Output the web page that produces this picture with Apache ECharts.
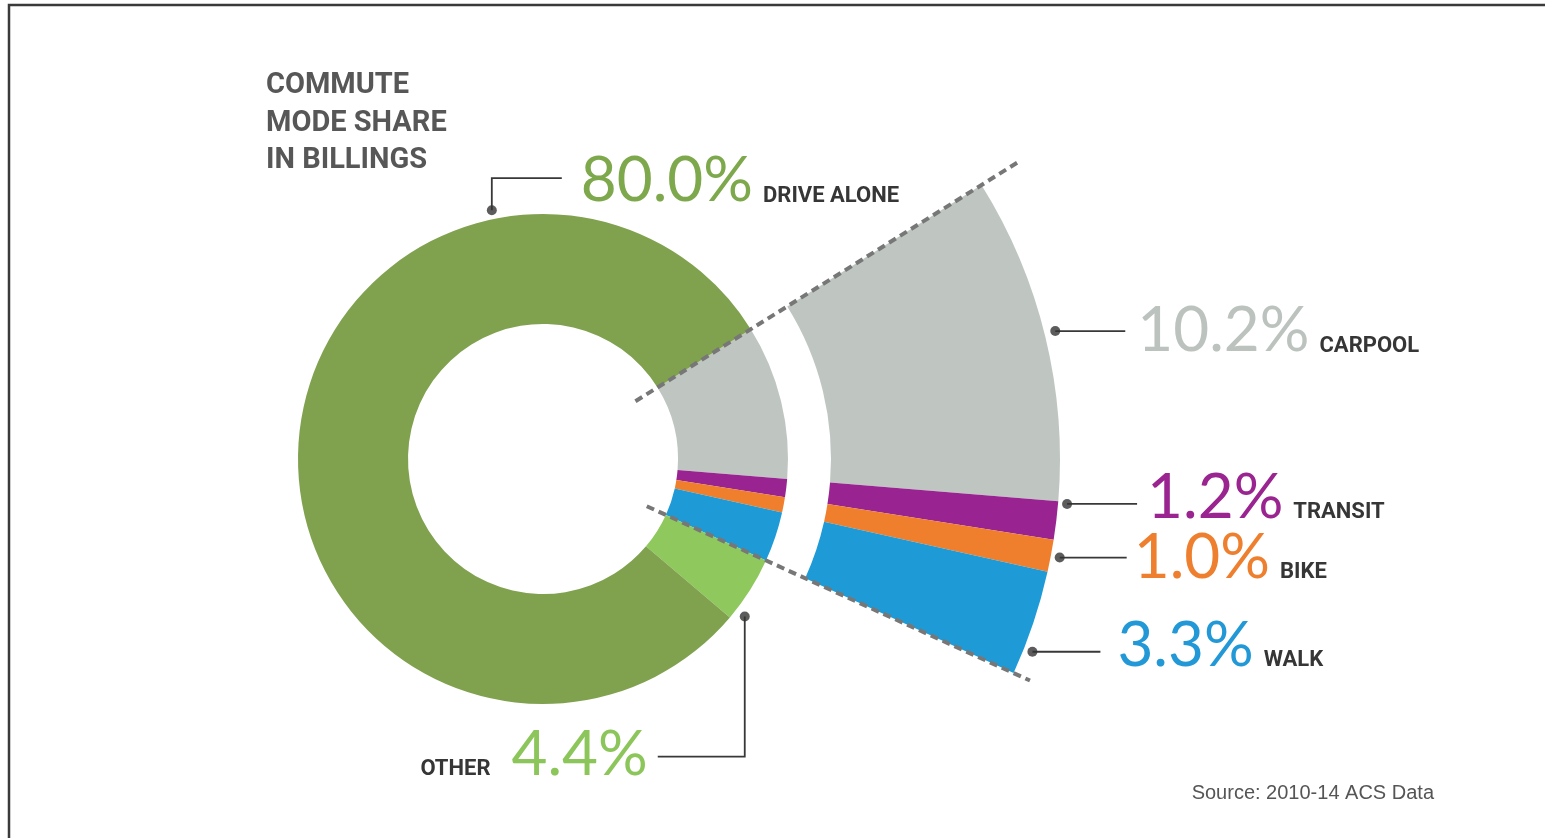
<!DOCTYPE html>
<html>
<head>
<meta charset="utf-8">
<script src="https://cdn.jsdelivr.net/npm/echarts@6/dist/echarts.min.js"></script>
<style>
html,body{margin:0;padding:0;background:#fff;}
#c{width:1545px;height:838px;}
</style>
</head>
<body>
<div id="c"></div>
<script>
// ---------- DATA ----------
const categories = ['Carpool', 'Transit', 'Bike', 'Walk', 'Other', 'Drive Alone'];
const labelNames = ['CARPOOL', 'TRANSIT', 'BIKE', 'WALK', 'OTHER', 'DRIVE ALONE'];
const shareValues = [10.2, 1.2, 1.0, 3.3, 4.4, 80.0];
const shareLabels = ['10.2%', '1.2%', '1.0%', '3.3%', '4.4%', '80.0%'];
const fanCategories = ['Carpool', 'Transit', 'Bike', 'Walk'];
const titleLines = ['COMMUTE', 'MODE SHARE', 'IN BILLINGS'];
const sourceText = 'Source: 2010-14 ACS Data';

// ---------- STYLE / LAYOUT ----------
const sliceColors = ['#bfc6c1', '#9a2392', '#ef7f2d', '#1e9bd7', '#8fc85c', '#80a24f'];
const textColors  = ['#bcc3be', '#9a2590', '#ee7f2e', '#2299d6', '#8cc65a', '#7ea84c'];
const CX = 543, CY = 459, START_ANGLE = 32;
const DONUT_R = [135, 245];
const FAN_R = [288, 517];
const NAME_FONT = 'Roboto';

// anchor (dot) placement: radius + fraction along the slice; leader offsets relative to the dot
const anchorLayout = {
  'Carpool':     { r: 528, frac: 0.49,  leader: [[35, 0], [70, 0]],   gap: 12, dy: 0,  align: 'left' },
  'Transit':     { r: 526, frac: 0.05,  leader: [[35, 0], [70, 0]],   gap: 10, dy: -6, align: 'left' },
  'Bike':        { r: 526, frac: 0.5,   leader: [[34, 0], [67, 0]],   gap: 7,  dy: 0,  align: 'left' },
  'Walk':        { r: 526, frac: 0.75,  leader: [[34, 0], [68, 0]],   gap: 17, dy: -6, align: 'left' },
  'Other':       { r: 256, frac: 0.855, leader: [[0, 140], [-87, 140]], gap: 10, dy: -2, align: 'right' },
  'Drive Alone': { r: 254, frac: 0.758, leader: [[0, -32], [70, -32]],  gap: 19, dy: 3,  align: 'left' }
};
const dashedBoundaries = [ { r: [109, 559] }, { r: [114, 535] } ];

// ---------- GEOMETRY HELPERS ----------
const total = shareValues.reduce((a, b) => a + b, 0);
function sliceSpan(name) {
  const idx = categories.indexOf(name);
  let before = 0;
  for (let i = 0; i < idx; i++) before += shareValues[i];
  const a0 = START_ANGLE - 360 * before / total;
  const a1 = a0 - 360 * shareValues[idx] / total;
  return [a0, a1];
}
function norm(a) { return ((a % 360) + 360) % 360; }
function anchorAngle(name) {
  const s = sliceSpan(name);
  return s[0] + (s[1] - s[0]) * anchorLayout[name].frac;
}
function toPixel(r, aDeg) {
  const a = aDeg * Math.PI / 180;
  return [CX + r * Math.cos(a), CY - r * Math.sin(a)];
}
const fanEndAngle = sliceSpan(fanCategories[fanCategories.length - 1])[1];

// ---------- SERIES DATA ----------
const rich = {};
categories.forEach((c, i) => {
  rich['p' + i] = { fontFamily: 'Lato', fontSize: 62, fontWeight: 400, color: textColors[i], lineHeight: 62 };
});
rich.n = { fontFamily: NAME_FONT, fontWeight: 'bold', fontSize: 22, color: '#363636', lineHeight: 22, padding: [30, 0, 0, 10] };
rich.nl = { fontFamily: NAME_FONT, fontWeight: 'bold', fontSize: 22, color: '#363636', lineHeight: 22, padding: [30, 21, 0, 0] };

function labelText(i) {
  if (categories[i] === 'Other') return '{nl|' + labelNames[i] + '}{p' + i + '|' + shareLabels[i] + '}';
  return '{p' + i + '|' + shareLabels[i] + '}{n|' + labelNames[i] + '}';
}

const donutData = categories.map((c, i) => {
  const labelled = (c === 'Other' || c === 'Drive Alone');
  return {
    name: c, value: shareValues[i],
    itemStyle: { color: sliceColors[i] },
    label: { show: labelled, formatter: labelText(i) },
    labelLine: { show: labelled }
  };
});

const fanData = fanCategories.map(c => {
  const i = categories.indexOf(c);
  return {
    name: c, value: shareValues[i],
    itemStyle: { color: sliceColors[i] },
    label: { show: true, formatter: labelText(i) },
    labelLine: { show: true }
  };
});
const restValue = categories.filter(c => fanCategories.indexOf(c) < 0)
  .reduce((s, c) => s + shareValues[categories.indexOf(c)], 0);
fanData.push({
  name: 'rest', value: restValue,
  itemStyle: { color: 'rgba(0,0,0,0)' },
  label: { show: false }, labelLine: { show: false }
});

const seriesData = [donutData, fanData];

function layoutLabel(params) {
  const item = seriesData[params.seriesIndex] && seriesData[params.seriesIndex][params.dataIndex];
  if (!item || !anchorLayout[item.name]) return {};
  const cfg = anchorLayout[item.name];
  const p0 = toPixel(cfg.r, anchorAngle(item.name));
  const p1 = [p0[0] + cfg.leader[0][0], p0[1] + cfg.leader[0][1]];
  const p2 = [p0[0] + cfg.leader[1][0], p0[1] + cfg.leader[1][1]];
  const x = cfg.align === 'left' ? p2[0] + cfg.gap : p2[0] - cfg.gap;
  return {
    x: x, y: p2[1] + cfg.dy,
    align: cfg.align, verticalAlign: 'middle',
    labelLinePoints: [p0, p1, p2]
  };
}

const dotData = Object.keys(anchorLayout).map(n => [anchorLayout[n].r, norm(anchorAngle(n))]);

const commonPie = {
  type: 'pie',
  center: [CX, CY],
  startAngle: START_ANGLE,
  clockwise: true,
  avoidLabelOverlap: false,
  animation: false,
  emphasis: { disabled: true },
  label: { position: 'outside', rich: rich },
  labelLine: { show: true, length: 10, length2: 10, lineStyle: { color: '#383838', width: 1.8 } },
  labelLayout: layoutLabel
};

const option = {
  animation: false,
  backgroundColor: '#ffffff',
  title: [
    {
      text: titleLines.join('\n'), left: 261, top: 62,
      textStyle: { fontFamily: NAME_FONT, fontWeight: 'bold', fontSize: 29, color: '#575757', lineHeight: 37.5 }
    },
    {
      text: sourceText, right: 106, top: 778,
      textStyle: { fontFamily: 'Liberation Sans', fontWeight: 'normal', fontSize: 20, color: '#555555' }
    }
  ],
  polar: { center: [CX, CY], radius: 600 },
  radiusAxis: { type: 'value', min: 0, max: 600, show: false },
  angleAxis: { type: 'value', min: 0, max: 360, startAngle: 0, clockwise: false, show: false },
  graphic: [{
    type: 'rect', silent: true, z: -10,
    shape: { x: 9, y: 5, width: 1700, height: 1000 },
    style: { fill: 'none', stroke: '#3a3a3a', lineWidth: 2.5 }
  }],
  series: [
    Object.assign({}, commonPie, { name: 'donut', radius: DONUT_R, data: donutData }),
    Object.assign({}, commonPie, { name: 'fan', radius: FAN_R, data: fanData }),
    {
      type: 'line', coordinateSystem: 'polar', symbol: 'none', z: 5, silent: true,
      lineStyle: { color: '#777777', width: 4, type: [8, 5] },
      data: [[dashedBoundaries[0].r[0], norm(START_ANGLE)], [dashedBoundaries[0].r[1], norm(START_ANGLE)]]
    },
    {
      type: 'line', coordinateSystem: 'polar', symbol: 'none', z: 5, silent: true,
      lineStyle: { color: '#777777', width: 4, type: [8, 5] },
      data: [[dashedBoundaries[1].r[0], norm(fanEndAngle)], [dashedBoundaries[1].r[1], norm(fanEndAngle)]]
    },
    {
      type: 'scatter', coordinateSystem: 'polar', symbol: 'circle', symbolSize: 10, z: 6, silent: true,
      itemStyle: { color: '#333333' },
      data: dotData
    }
  ]
};

const chart = echarts.init(document.getElementById('c'));
chart.setOption(option);
</script>
</body>
</html>
